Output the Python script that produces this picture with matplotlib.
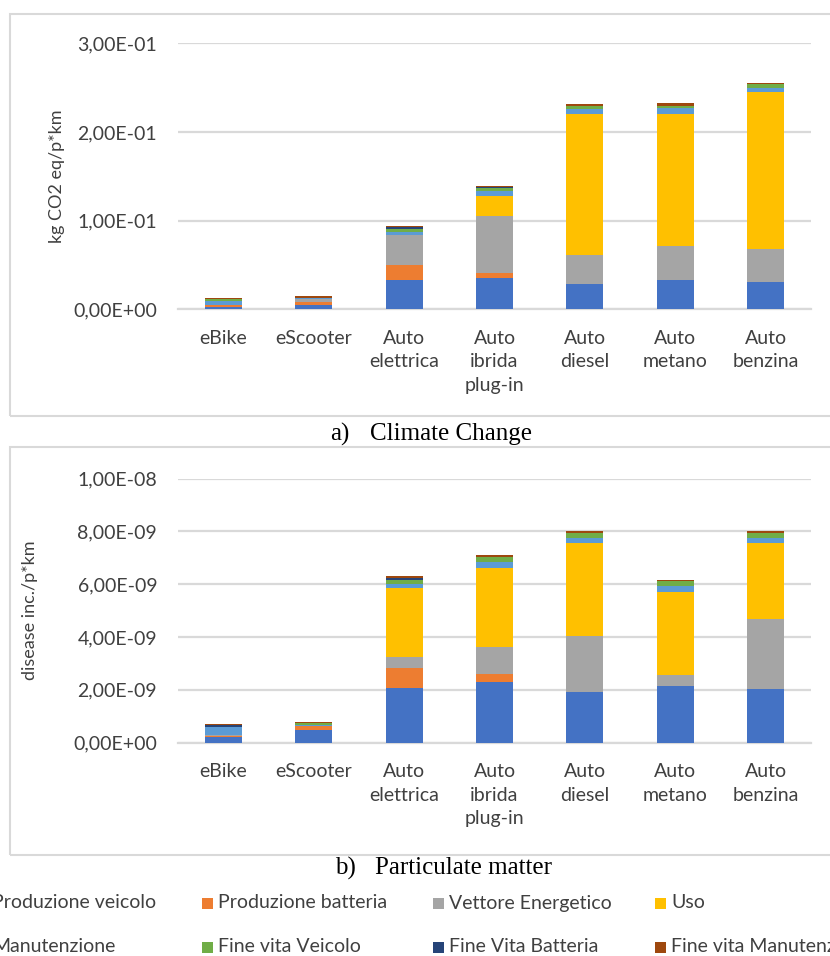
import numpy as np
import matplotlib
matplotlib.use("Agg")
import matplotlib.pyplot as plt
from matplotlib.patches import Rectangle

# data
categories = ['eBike', 'eScooter', 'Auto\nelettrica', 'Auto\nibrida\nplug-in',
              'Auto\ndiesel', 'Auto\nmetano', 'Auto\nbenzina']
series = ['Produzione veicolo', 'Produzione batteria', 'Vettore Energetico', 'Uso',
          'Manutenzione', 'Fine vita Veicolo', 'Fine Vita Batteria', 'Fine vita Manutenzione']
colors = ['#4472C4', '#ED7D31', '#A5A5A5', '#FFC000',
          '#5B9BD5', '#70AD47', '#264478', '#9E480E']

# kg CO2 eq / p*km, one row per series
climate = np.array([
    [0.0026, 0.0050, 0.0327, 0.0355, 0.0283, 0.0328, 0.0313],
    [0.0020, 0.0030, 0.0172, 0.0055, 0.0000, 0.0000, 0.0000],
    [0.0008, 0.0040, 0.0341, 0.0640, 0.0332, 0.0389, 0.0370],
    [0.0000, 0.0000, 0.0000, 0.0230, 0.1593, 0.1491, 0.1771],
    [0.0045, 0.0005, 0.0030, 0.0050, 0.0046, 0.0057, 0.0045],
    [0.0018, 0.0005, 0.0038, 0.0040, 0.0036, 0.0030, 0.0038],
    [0.0000, 0.0000, 0.0020, 0.0006, 0.0000, 0.0000, 0.0000],
    [0.0010, 0.0015, 0.0016, 0.0020, 0.0020, 0.0030, 0.0019],
])

# disease inc. / p*km (x 1e-9)
particulate = np.array([
    [0.20, 0.47, 2.06, 2.30, 1.91, 2.15, 2.01],
    [0.05, 0.14, 0.77, 0.29, 0.00, 0.00, 0.00],
    [0.05, 0.02, 0.39, 1.02, 2.13, 0.39, 2.66],
    [0.00, 0.00, 2.62, 2.99, 3.53, 3.15, 2.90],
    [0.29, 0.04, 0.17, 0.23, 0.19, 0.22, 0.19],
    [0.00, 0.06, 0.15, 0.20, 0.19, 0.19, 0.19],
    [0.075, 0.00, 0.09, 0.00, 0.00, 0.00, 0.00],
    [0.04, 0.04, 0.05, 0.06, 0.05, 0.06, 0.05],
]) * 1e-9

W, H = 830, 956
SANS = ['Lato', 'DejaVu Sans']
SERIF = ['Liberation Serif', 'DejaVu Serif']
GRID = '#D9D9D9'
TXT = '#404040'

fig = plt.figure(figsize=(W / 100, H / 100), dpi=100)


def rect(x0, y0, x1, y1):
    # pixel box (top-left origin) -> figure fraction
    return [x0 / W, 1 - y1 / H, (x1 - x0) / W, (y1 - y0) / H]


def fmt(v, pos=None):
    return f'{v:.2E}'.replace('.', ',')


def panel(data, box, ymax, step, ylabel, ylabel_x):
    ax = fig.add_axes(rect(*box))
    x = np.arange(len(categories))
    bottom = np.zeros(len(categories))
    for vals, c, name in zip(data, colors, series):
        ax.bar(x, vals, 0.41, bottom=bottom, color=c, label=name, zorder=3)
        bottom += vals
    ax.set_xlim(-0.5, len(categories) - 0.5)
    ax.set_ylim(0, ymax)
    ax.set_yticks(np.arange(0, ymax + step / 2, step))
    ax.yaxis.set_major_formatter(plt.FuncFormatter(fmt))
    ax.grid(axis='y', color=GRID, lw=1.6, zorder=0)
    for s in ['top', 'right', 'left']:
        ax.spines[s].set_visible(False)
    ax.spines['bottom'].set_color(GRID)
    ax.spines['bottom'].set_linewidth(1.6)
    ax.set_xticks(x)
    ax.set_xticklabels(categories, fontfamily=SANS, fontsize=14, color=TXT,
                       linespacing=1.45)
    ax.tick_params(axis='both', length=0, pad=15)
    for lab in ax.get_yticklabels():
        lab.set_fontfamily(SANS)
        lab.set_fontsize(14)
        lab.set_color(TXT)
    y0, y1 = box[1], box[3]
    fig.text(ylabel_x / W, 1 - (y0 + y1) / 2 / H, ylabel, rotation=90,
             ha='center', va='center', fontfamily=SANS, fontsize=13, color=TXT)
    return ax


# panel frames
for fy0, fy1 in [(14, 416), (447, 855)]:
    fig.patches.append(Rectangle((10 / W, 1 - fy1 / H), (W + 20) / W, (fy1 - fy0) / H,
                                 transform=fig.transFigure, fill=False,
                                 ec=GRID, lw=1.5))

panel(climate, (178, 43.3, 811, 309.3), 0.3, 0.1, 'kg CO2 eq/p*km', 57)
panel(particulate, (178, 478.5, 811, 742.5), 1e-8, 2e-9, 'disease inc./p*km', 30)

fig.text(330 / W, 1 - 434 / H, 'a)', fontfamily=SERIF, fontsize=18, va='center')
fig.text(370 / W, 1 - 434 / H, 'Climate Change', fontfamily=SERIF, fontsize=18, va='center')
fig.text(335 / W, 1 - 868 / H, 'b)', fontfamily=SERIF, fontsize=18, va='center')
fig.text(375 / W, 1 - 868 / H, 'Particulate matter', fontfamily=SERIF, fontsize=18, va='center')

# legend, laid out like the Excel one (clipped at the image edges)
col_x = [-8, 218, 449, 671]
row_y = [903, 947]
for i, (name, c) in enumerate(zip(series, colors)):
    tx = col_x[i % 4]
    ty = row_y[i // 4]
    fig.patches.append(Rectangle(((tx - 16) / W, 1 - (ty + 5.5) / H), 11 / W, 11 / H,
                                 transform=fig.transFigure, color=c, lw=0))
    fig.text(tx / W, 1 - ty / H, name, fontfamily=SANS, fontsize=14,
             color=TXT, va='center', ha='left')

fig.savefig('out.png', dpi=100)
